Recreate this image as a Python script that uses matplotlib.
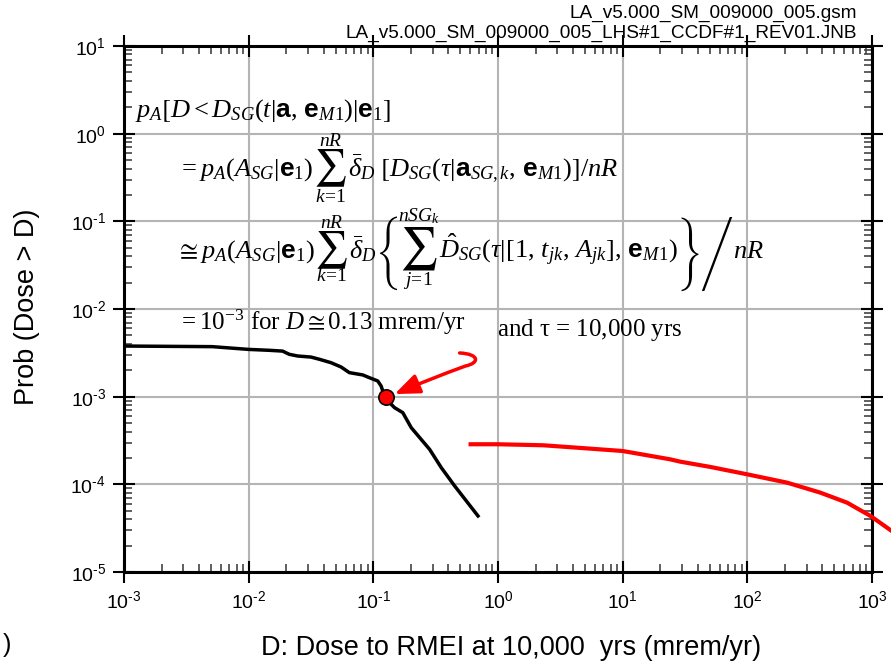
import numpy as np
import matplotlib
matplotlib.use("Agg")
import matplotlib.pyplot as plt
from matplotlib.path import Path
from matplotlib.patches import FancyArrowPatch
from matplotlib.ticker import LogLocator, FuncFormatter, NullFormatter

plt.rcParams['font.family'] = ['Liberation Sans', 'DejaVu Sans']
plt.rcParams['mathtext.fontset'] = 'custom'
plt.rcParams['mathtext.rm'] = 'Liberation Serif'
plt.rcParams['mathtext.it'] = 'Liberation Serif:italic'
plt.rcParams['mathtext.bf'] = 'Liberation Sans:bold'
plt.rcParams['mathtext.sf'] = 'Liberation Sans'
plt.rcParams['mathtext.cal'] = 'Liberation Serif:italic'
plt.rcParams['mathtext.fallback'] = 'stix'

# ---- data ----
ccdf_dose = [1e-3, 5.1e-3, 0.010, 0.01458, 0.0187, 0.0212, 0.0247, 0.0316, 0.0369, 0.0458,
             0.0551, 0.0642, 0.0822, 0.0931, 0.1085, 0.1156, 0.119, 0.1267, 0.139, 0.148,
             0.1723, 0.2014, 0.2825, 0.3508, 0.4487, 0.691]
ccdf_prob = [3.78e-3, 3.72e-3, 3.46e-3, 3.38e-3, 3.31e-3, 3.04e-3, 2.91e-3, 2.83e-3, 2.67e-3,
             2.44e-3, 2.18e-3, 1.88e-3, 1.77e-3, 1.645e-3, 1.51e-3, 1.32e-3, 1.16e-3, 1.02e-3,
             8.19e-4, 7.49e-4, 6.57e-4, 4.43e-4, 2.51e-4, 1.55e-4, 9.6e-5, 4.36e-5]

red_dose = [0.603, 1.0, 2.30, 4.27, 10.0, 24.0, 28.9, 50.4, 100.0, 208.0, 385.0, 631.0, 972.0, 1409.0]
red_prob = [2.865e-4, 2.865e-4, 2.79e-4, 2.62e-4, 2.40e-4, 1.93e-4, 1.815e-4, 1.58e-4, 1.30e-4,
            1.046e-4, 8.04e-5, 6.18e-5, 4.36e-5, 3.0e-5]

point_dose = [0.126]
point_prob = [1.0e-3]

arrow_x = [0.492, 0.713, 0.713, 0.55, 0.282, 0.148]
arrow_y = [3.15e-3, 3.07e-3, 2.42e-3, 2.24e-3, 1.59e-3, 1.07e-3]

x_ticks = [1e-3, 1e-2, 1e-1, 1e0, 1e1, 1e2, 1e3]
y_ticks = [1e-5, 1e-4, 1e-3, 1e-2, 1e-1, 1e0, 1e1]

W, H = 891, 664
fig = plt.figure(figsize=(W / 100, H / 100), dpi=100)
ax = fig.add_axes([124 / W, 1 - 572 / H, (872 - 124) / W, (572 - 46) / H])
ax.set_xscale('log')
ax.set_yscale('log')
ax.set_xlim(x_ticks[0], x_ticks[-1])
ax.set_ylim(y_ticks[0], y_ticks[-1])

ax.grid(True, which='major', color='#b4b4b4', lw=1.5)
ax.set_axisbelow(True)

ax.plot(ccdf_dose, ccdf_prob, color='black', lw=2.5, zorder=3, solid_joinstyle='round')
ax.plot(red_dose, red_prob, color='red', lw=3, zorder=3, clip_on=False, solid_joinstyle='round')
ax.plot(point_dose, point_prob, 'o', color='red', mec='black', mew=1.2, ms=11, zorder=5)

verts = list(zip(arrow_x, arrow_y))
codes = [Path.MOVETO, Path.CURVE4, Path.CURVE4, Path.CURVE4, Path.CURVE3, Path.CURVE3]
arr = FancyArrowPatch(path=Path(verts, codes), arrowstyle='-|>,head_length=1.0,head_width=0.4',
                      mutation_scale=15, color='red', lw=2.5, zorder=6, transform=ax.transData)
ax.add_patch(arr)

ax.xaxis.set_major_locator(LogLocator(base=10, numticks=20))
ax.yaxis.set_major_locator(LogLocator(base=10, numticks=20))
ax.xaxis.set_minor_locator(LogLocator(base=10, subs=np.arange(2, 10), numticks=20))
ax.yaxis.set_minor_locator(LogLocator(base=10, subs=np.arange(2, 10), numticks=20))


def fmt_func(v, p):
    e = int(round(np.log10(v)))
    s = str(e).replace('-', '\u2010')
    return r'$\mathregular{10^{%s}}$' % s


fmt = FuncFormatter(fmt_func)
ax.xaxis.set_major_formatter(fmt)
ax.yaxis.set_major_formatter(fmt)
ax.xaxis.set_minor_formatter(NullFormatter())
ax.yaxis.set_minor_formatter(NullFormatter())
ax.tick_params(which='major', direction='inout', length=16, width=1.5, labelsize=14,
               top=True, right=True, color='black')
ax.tick_params(which='minor', direction='in', length=6, width=1.2, top=True, right=True,
               color='#444444')
ax.tick_params(axis='x', which='major', pad=5)
ax.tick_params(axis='y', which='major', pad=5)
for s in ax.spines.values():
    s.set_linewidth(2.2)

renderer = fig.canvas.get_renderer()


def T(xp, yp, s, size, **kw):
    return fig.text(xp / W, 1 - yp / H, s, fontsize=size, **kw)


def wid(t):
    return t.get_window_extent(renderer).width


fig.text(511 / W, 1 - 648 / H, 'D: Dose to RMEI at 10,000  yrs (mrem/yr)', ha='center',
         va='center', fontsize=19.5)
fig.text(27 / W, 1 - 307 / H, 'Prob (Dose > D)', ha='center', va='center', rotation=90,
         fontsize=19.5)

T(857, 13, 'LA_v5.000_SM_009000_005.gsm', 13.7, ha='right', va='center')
T(857, 33, 'LA_v5.000_SM_009000_005_LHS#1_CCDF#1_REV01.JNB', 13.7, ha='right', va='center')
T(3, 645, ')', 18, ha='left', va='center')

fs = 19
ls = 14


def seq(items, x, base):
    for it in items:
        kind = it[0]
        if kind == 'm':
            t = T(x, base + it[2], it[1], fs, va='baseline')
            x += wid(t)
        elif kind == 'gap':
            x += it[1]
        elif kind == 'sum':
            _, up, low, cy, dup, dlow, size = it
            t = T(x, base + cy, '\u2211', size, family='STIXSizeOneSym', va='center')
            w = wid(t)
            cx = x + w / 2
            T(cx, base + cy - dup, up, ls, ha='center', va='center')
            T(cx, base + cy + dlow, low, ls, ha='center', va='center')
            x += w
        elif kind == 'big':
            _, ch, cy, size = it
            t = T(x, base + cy, ch, size, family='STIXSizeFourSym', va='center')
            x += wid(t)
    return x


T(135, 117, r'$p_A\left[D < D_{SG}(t|\mathbf{a},\,\mathbf{e}_{M1})|\mathbf{e}_1\right]$', fs,
  va='baseline')

seq([('m', r'$= p_A(\mathcal{A}_{SG}|\mathbf{e}_1)$', 0),
     ('sum', r'$nR$', r'$k\!=\!1$', -8, 27, 29, fs),
     ('m', r'$\bar{\delta}_D\ \left[D_{SG}(\tau|\mathbf{a}_{SG,k},\,\mathbf{e}_{M1})\right]/nR$', 0)],
    178, 176)

seq([('m', r'$\cong p_A(\mathcal{A}_{SG}|\mathbf{e}_1)$', 0),
     ('sum', r'$nR$', r'$k\!=\!1$', -8, 27, 26, fs),
     ('m', r'$\bar{\delta}_D$', 0),
     ('big', '{', -5, fs * 0.9),
     ('gap', -3),
     ('sum', r'$nSG_k$', r'$j\!=\!1$', -8, 34, 31, fs * 1.15),
     ('gap', 1),
     ('m', r'$\hat{D}_{SG}(\tau|[1,\,t_{jk},\,A_{jk}],\,\mathbf{e}_{M1})$', 0),
     ('gap', -1),
     ('big', '}/', -4, fs * 0.9),
     ('gap', -1),
     ('m', r'$nR$', 0)],
    176, 258)

T(178, 330, r'$=10^{-3}$ for $D \cong 0.13$ mrem/yr', 18, va='baseline', family='Liberation Serif')
T(497, 336, r'and $\mathrm{\tau}$ = 10,000 yrs', 18, va='baseline', family='Liberation Serif')

fig.savefig('out.png', dpi=100)
